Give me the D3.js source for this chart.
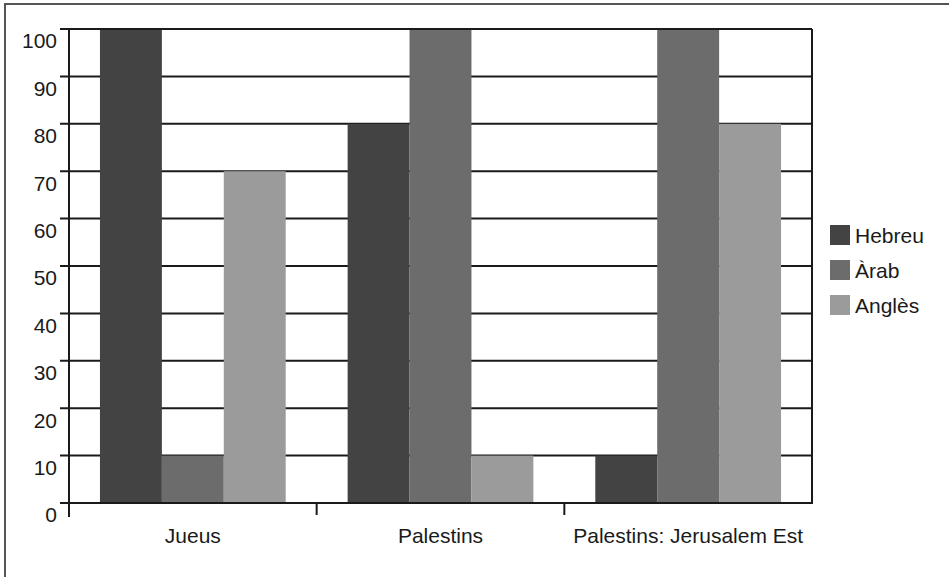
<!DOCTYPE html>
<html>
<head>
<meta charset="utf-8">
<script src="https://cdn.jsdelivr.net/npm/d3@7"></script>
<style>
  html, body { margin: 0; padding: 0; background: #fff; }
  svg { display: block; }
  text { font-family: "Liberation Sans", Arial, sans-serif; fill: #1a1a1a; }
</style>
</head>
<body>
<svg id="chart" width="949" height="577"></svg>
<script>
// Language use by group (percent)
const categories = ["Jueus", "Palestins", "Palestins: Jerusalem Est"];
const series = ["Hebreu", "Àrab", "Anglès"];
const hebreu = [100, 80, 10];
const arab = [10, 100, 100];
const angles = [70, 10, 80];
const yTicks = [0, 10, 20, 30, 40, 50, 60, 70, 80, 90, 100];
const colors = ["#434343", "#6c6c6c", "#9b9b9b"];

const values = [hebreu, arab, angles];
const rows = categories.map((c, i) => ({
  category: c,
  bars: series.map((s, j) => ({ series: s, value: values[j][i], color: colors[j] }))
}));

const FONT = 21;
const svg = d3.select("#chart");

// outer frame (top and left edges)
svg.append("path")
  .attr("d", "M5,577 V4 H949")
  .attr("fill", "none")
  .attr("stroke", "#555")
  .attr("stroke-width", 2);

const plot = { left: 69, right: 812, top: 29, bottom: 503 };

const x0 = d3.scaleBand()
  .domain(categories)
  .range([plot.left, plot.right])
  .paddingInner(0)
  .paddingOuter(0);

const x1 = d3.scaleBand()
  .domain(series)
  .range([0, x0.bandwidth()])
  .paddingInner(0)
  .paddingOuter(0.5);

const y = d3.scaleLinear()
  .domain([0, 100])
  .range([plot.bottom, plot.top]);

// horizontal gridlines with left tick marks
svg.append("g")
  .selectAll("line")
  .data(yTicks.filter(t => t !== 0 && t !== 100))
  .join("line")
  .attr("x1", plot.left - 9)
  .attr("x2", plot.right)
  .attr("y1", d => y(d))
  .attr("y2", d => y(d))
  .attr("stroke", "#1a1a1a")
  .attr("stroke-width", 2);

// bars
const groups = svg.append("g")
  .selectAll("g")
  .data(rows)
  .join("g")
  .attr("transform", d => `translate(${x0(d.category)},0)`);

groups.selectAll("rect")
  .data(d => d.bars)
  .join("rect")
  .attr("x", d => x1(d.series))
  .attr("width", x1.bandwidth())
  .attr("y", d => y(d.value))
  .attr("height", d => y(0) - y(d.value))
  .attr("fill", d => d.color);

// frame of the plot: top and bottom lines, right border
const frame = svg.append("g")
  .attr("stroke", "#1a1a1a")
  .attr("stroke-width", 2)
  .attr("fill", "none");

frame.append("line")
  .attr("x1", plot.left - 9).attr("x2", plot.right)
  .attr("y1", y(100)).attr("y2", y(100));
frame.append("line")
  .attr("x1", plot.left - 9).attr("x2", plot.right)
  .attr("y1", y(0)).attr("y2", y(0));
frame.append("line")
  .attr("x1", plot.right).attr("x2", plot.right)
  .attr("y1", y(100)).attr("y2", y(0) + 1);

// left y axis
const yAxis = d3.axisLeft(y)
  .tickValues(yTicks)
  .tickSize(0)
  .tickPadding(12)
  .tickFormat(d3.format("d"));

const yg = svg.append("g")
  .attr("transform", `translate(${plot.left},0)`)
  .call(yAxis);
yg.select(".domain").remove();
yg.selectAll("text")
  .attr("font-size", FONT)
  .attr("dy", "0.9em")
  .style("fill", "#1a1a1a");
svg.append("line")
  .attr("x1", plot.left).attr("x2", plot.left)
  .attr("y1", y(100) - 1).attr("y2", y(0) + 14)
  .attr("stroke", "#1a1a1a").attr("stroke-width", 2);

// bottom x axis with ticks at category boundaries
const xAxis = d3.axisBottom(x0).tickSize(0).tickPadding(25);
const xg = svg.append("g")
  .attr("transform", `translate(0,${plot.bottom})`)
  .call(xAxis);
xg.select(".domain").remove();
xg.selectAll("text")
  .attr("font-size", FONT)
  .style("fill", "#1a1a1a");

const boundaries = categories.slice(1).map(c => x0(c));
svg.append("g")
  .selectAll("line")
  .data(boundaries)
  .join("line")
  .attr("x1", d => d).attr("x2", d => d)
  .attr("y1", y(0)).attr("y2", y(0) + 12)
  .attr("stroke", "#1a1a1a").attr("stroke-width", 2);

// legend
const legend = svg.append("g")
  .attr("transform", "translate(830,225)");
const items = legend.selectAll("g")
  .data(series)
  .join("g")
  .attr("transform", (d, i) => `translate(0,${i * 35})`);
items.append("rect")
  .attr("width", 20)
  .attr("height", 20)
  .attr("fill", (d, i) => colors[i]);
items.append("text")
  .attr("x", 25)
  .attr("y", 18)
  .attr("font-size", FONT)
  .text(d => d);
</script>
</body>
</html>
